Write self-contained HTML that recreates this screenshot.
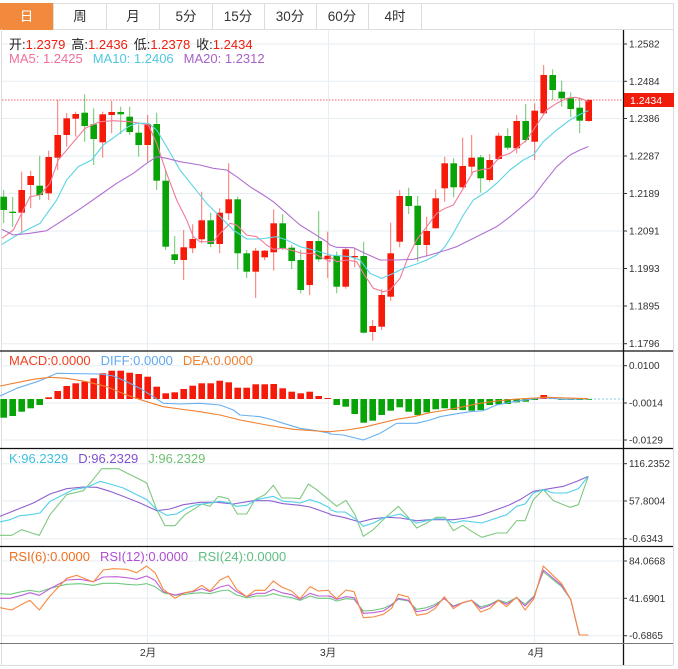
<!DOCTYPE html>
<html><head><meta charset="utf-8"><style>
body{margin:0;background:#fff;width:678px;height:669px;overflow:hidden;font-family:"Liberation Sans","Noto Sans CJK SC",sans-serif}
svg{position:absolute;left:0;top:0}
text{font-family:"Liberation Sans","Noto Sans CJK SC",sans-serif}
</style></head><body>
<svg id="s" width="678" height="669" xmlns="http://www.w3.org/2000/svg">
<rect x="0" y="0" width="678" height="669" fill="#fff"/>
<line x1="0" y1="3.5" x2="673" y2="3.5" stroke="#ddd"/>
<line x1="0" y1="29.5" x2="673" y2="29.5" stroke="#ddd"/>
<rect x="0" y="3" width="53" height="27" fill="#f28a3e"/>
<g stroke="#ddd"><line x1="53.5" y1="3" x2="53.5" y2="29"/><line x1="106.5" y1="3" x2="106.5" y2="29"/><line x1="159.5" y1="3" x2="159.5" y2="29"/><line x1="212.5" y1="3" x2="212.5" y2="29"/><line x1="264.5" y1="3" x2="264.5" y2="29"/><line x1="316.5" y1="3" x2="316.5" y2="29"/><line x1="368.5" y1="3" x2="368.5" y2="29"/><line x1="421.5" y1="3" x2="421.5" y2="29"/><line x1="673.5" y1="3" x2="673.5" y2="665"/><line x1="1.5" y1="29" x2="1.5" y2="665"/><line x1="0" y1="665.5" x2="673" y2="665.5"/></g>
<g font-size="13.5" fill="#333" text-anchor="middle">
<text x="26.5" y="21" fill="#fff">日</text><text x="80" y="21">周</text><text x="133" y="21">月</text><text x="186" y="21">5分</text><text x="238" y="21">15分</text><text x="290" y="21">30分</text><text x="342" y="21">60分</text><text x="395" y="21">4时</text>
</g>
<g id="grid" stroke="#e6eef2" stroke-width="1"></g>
<g id="plot"></g>
<g stroke="#111" stroke-width="1.3">
<line x1="0" y1="351" x2="673" y2="351"/><line x1="0" y1="448.5" x2="673" y2="448.5"/><line x1="0" y1="546.5" x2="673" y2="546.5"/>
<line x1="623.5" y1="30" x2="623.5" y2="665"/>
</g>
<line x1="0" y1="643.5" x2="673" y2="643.5" stroke="#777"/>
<g id="axis" font-size="10" fill="#333"></g>
<rect x="624" y="93" width="50" height="14" fill="#f01c0c"/>
<text x="630" y="104" font-size="10.5" fill="#fff">1.2434</text>
<g font-size="13">
<text x="9" y="49"><tspan fill="#222">开:</tspan><tspan fill="#f01c0c">1.2379</tspan><tspan fill="#222" dx="6">高:</tspan><tspan fill="#f01c0c">1.2436</tspan><tspan fill="#222" dx="6">低:</tspan><tspan fill="#f01c0c">1.2378</tspan><tspan fill="#222" dx="6">收:</tspan><tspan fill="#f01c0c">1.2434</tspan></text>
<text x="9" y="63"><tspan fill="#f0709a">MA5: 1.2425</tspan><tspan fill="#4fc8e0" dx="10">MA10: 1.2406</tspan><tspan fill="#a860c8" dx="10">MA20: 1.2312</tspan></text>
<text x="9" y="365"><tspan fill="#f04020">MACD:0.0000</tspan><tspan fill="#60a8f0" dx="10">DIFF:0.0000</tspan><tspan fill="#f08030" dx="10">DEA:0.0000</tspan></text>
<text x="9" y="463"><tspan fill="#40c0e0">K:96.2329</tspan><tspan fill="#8050d0" dx="10">D:96.2329</tspan><tspan fill="#70c070" dx="10">J:96.2329</tspan></text>
<text x="9" y="561"><tspan fill="#f07020">RSI(6):0.0000</tspan><tspan fill="#b050d0" dx="10">RSI(12):0.0000</tspan><tspan fill="#60c080" dx="10">RSI(24):0.0000</tspan></text>
</g>
<g font-size="10.5" fill="#333" text-anchor="middle"><text x="148" y="656">2月</text><text x="328" y="656">3月</text><text x="536" y="656">4月</text></g>
</svg>
<script>
const NS="http://www.w3.org/2000/svg",plot=document.getElementById('plot'),grid=document.getElementById('grid'),axis=document.getElementById('axis');
function el(p,t,a){const e=document.createElementNS(NS,t);for(const k in a)e.setAttribute(k,a[k]);p.appendChild(e);return e;}
[44,81.3,118.5,156,193.5,231,268.5,306,343.7,365.7,403,440,463.7,501,538.7,561,598.3,635.7].forEach(y=>el(grid,'line',{x1:2,x2:623,y1:y,y2:y}));
[147.5,328.5,534.5].forEach(x=>el(grid,'line',{x1:x,x2:x,y1:30,y2:643}));
const ticks=[[44,'1.2582'],[81.3,'1.2484'],[118.5,'1.2386'],[156,'1.2287'],[193.5,'1.2189'],[231,'1.2091'],[268.5,'1.1993'],[306,'1.1895'],[343.7,'1.1796'],[365.7,'0.0100'],[403,'-0.0014'],[440,'-0.0129'],[463.7,'116.2352'],[501,'57.8004'],[538.7,'-0.6343'],[561,'84.0668'],[598.3,'41.6901'],[635.7,'-0.6865']];
ticks.forEach(([y,t])=>{el(axis,'line',{x1:623,x2:627,y1:y,y2:y,stroke:'#333'});const e=el(axis,'text',{x:629,y:y+3.5});e.textContent=t;});
el(plot,'line',{x1:2,x2:623,y1:100,y2:100,stroke:'#f06060','stroke-dasharray':'1.5,1.5'});
const R='#f51a0a',G='#07a307';
const C=[['g',196.7,210,190,223],['g',211.7,212.7,197,227],['r',190,212.7,171.7,231.7],['r',176,185,170.7,208],['g',185.7,195,155.7,200],['r',157,193.3,150.7,200],['r',135,157.7,100,170],['r',118.3,135,113,146.7],['r',114,118.7,111.7,136.7],['g',112.7,126,94.3,141.7],['g',124.3,139,108.3,165],['r',114.3,142.3,111.7,157.7],['r',112,115,101,133.3],['g',112,114.3,106.7,134],['g',116.7,132,106.7,135],['g',132.7,145,124.3,156.7],['r',124,145,115,161.7],['g',124,180.7,112.7,190],['g',180.7,246.7,170,250],['g',254.3,260,236,264],['r',247.3,260,230,280],['r',239,248.3,224.3,253.3],['r',220.3,239.3,191.7,243.3],['g',220.3,244,212.7,247.3],['r',212.7,244,208.3,253.3],['r',199.3,213.3,163.3,220],['g',199.3,253.3,196.7,269.3],['g',253.3,271.7,250,278],['r',250.7,271.7,248,298],['r',250.7,257.3,250,260],['r',223.3,252.3,209.3,270.7],['g',223.3,248.3,214,250],['g',247.7,261,245,269],['g',260,290,250,293.3],['r',241,285,241,295],['g',241,259.3,211,261.7],['r',255.7,259,231.7,278],['g',255.7,286.7,251.7,293.3],['r',249.3,286.7,247.7,288.7],['r',256,257.3,248.3,267.3],['g',256,332.7,241.7,333.3],['r',326,332,320,340.7],['r',295,326.7,289.3,330],['r',253.3,296.7,222.7,300.7],['r',196,241.7,190,247.3],['g',196,206,187.7,214],['g',205.7,245,196,261.7],['r',231,245,216.7,256],['r',198.3,228.3,189.3,228.3],['r',163.3,188.3,156.7,201.7],['g',163.3,187.3,158.3,197.3],['r',166,187.3,137.7,188.3],['r',157.7,166.7,135,175],['g',157.3,178.3,155,192.7],['r',160,180,154,181.7],['r',135.7,159,132.7,160],['g',136,147.7,128.3,150],['r',121,148.3,115,153.3],['g',121,140,104,142.7],['r',110.7,141.7,103.3,160],['r',75,113.3,65,115],['g',75,90,69.3,100],['g',91.7,98.3,80.7,106.7],['g',98.3,109,92.3,117.3],['g',107.7,120.7,97.3,133.3],['r',100,121,99.3,121.7]];
C.forEach((c,i)=>{const x=3.7+9*i,col=c[0]=='r'?R:G;
el(plot,'line',{x1:x,x2:x,y1:c[3],y2:c[4],stroke:col,'stroke-opacity':0.6});
el(plot,'rect',{x:x-3.3,y:c[1],width:6.6,height:Math.max(1.3,c[2]-c[1]),fill:col});});
function pl(a,b,ox,oy,col,w){const p=a.map(q=>[q[0]/3,q[1]/3+oy]).concat(b.map(q=>[330+q[0]/3,q[1]/3+oy]));
el(plot,'polyline',{points:p.map(q=>q.join(',')).join(' '),fill:'none',stroke:col,'stroke-width':w||1.1,'stroke-linejoin':'round'});}
pl([[6,535],[40,510],[90,410],[120,405],[150,370],[175,300],[200,270],[255,205],[300,185],[340,182],[390,185],[420,190],[445,195],[470,250],[500,340],[530,420],[560,480],[580,530],[600,545],[640,545],[660,520],[690,490],[710,495],[740,525],[770,530],[800,555],[820,568],[850,565],[880,572],[905,580],[940,580],[970,595],[990,605]],[[0,590],[20,605],[50,600],[80,605],[100,640],[130,685],[160,695],[180,690],[210,655],[235,590],[260,540],[290,500],[320,460],[345,445],[370,435],[400,385],[430,335],[460,328],[480,325],[510,290],[540,280],[560,265],[590,240],[620,195],[650,150],[680,130],[710,115],[735,112],[760,118],[775,125]],0,60,'#f07b9a');
pl([[6,553],[60,520],[120,490],[170,420],[200,360],[235,320],[275,300],[310,255],[345,230],[385,200],[410,190],[445,190],[470,210],[500,260],[540,330],[580,380],[620,430],[660,470],[700,510],[740,537],[780,537],[830,530],[860,540],[900,560],[940,570],[980,582]],[[0,585],[60,590],[90,600],[120,640],[155,655],[190,640],[220,625],[260,612],[290,600],[320,585],[345,560],[370,520],[400,465],[430,420],[470,395],[500,370],[540,330],[580,300],[610,285],[640,245],[680,210],[720,180],[750,163],[775,152]],0,60,'#5bd3e6');
pl([[6,508],[40,525],[90,520],[140,512],[190,480],[250,440],[300,405],[350,370],[400,340],[440,310],[470,290],[500,295],[540,305],[600,315],[640,325],[680,330],[710,350],[750,380],[790,405],[820,425],[860,460],[900,495],[940,520],[980,545]],[[0,555],[20,562],[70,563],[105,580],[150,600],[200,600],[250,598],[300,585],[350,570],[380,560],[420,540],[460,520],[500,500],[540,470],[570,445],[610,410],[640,370],[680,320],[720,285],[750,270],[775,260]],0,60,'#b070d0');
const M=[417.7,416,411.7,408.3,405,397.3,391,386,383.3,381.7,378.3,373.3,370.7,370.7,372.7,374,376.7,386.7,393.3,392.3,389,385.7,383.3,383.3,380.7,382.3,387.7,387.7,384.3,384.3,384,388.3,391.7,393.3,391.7,396,398,405,406.7,414,422.7,420.7,415,410.7,407.3,411.7,415,412.3,409.3,408.3,410,410,410.7,410,405,404.3,404,402.3,401.7,400,395,398,400,400,400,399.5];
el(plot,'line',{x1:590,x2:623,y1:399,y2:399,stroke:'#80d0f0','stroke-dasharray':'2,2'});
M.forEach((v,i)=>{const x=3.7+9*i,z=399;el(plot,'rect',{x:x-3.3,y:Math.min(v,z),width:6.6,height:Math.max(0.8,Math.abs(v-z)),fill:v<z?R:G});});
pl([[0,138],[50,115],[120,92],[170,70],[300,72],[340,78],[380,95],[420,115],[460,140],[490,160],[540,162],[600,160],[660,165],[700,180],[720,195],[780,200],[820,210],[850,220],[900,235],[950,242],[990,250]],[[0,252],[40,255],[100,270],[150,250],[200,220],[260,220],[300,210],[330,200],[370,193],[420,185],[460,182],[500,165],[550,155],[600,148],[640,143],[700,148],[775,147]],0,350,'#6ab0f0');
pl([[0,108],[50,98],[100,88],[150,82],[200,85],[260,95],[320,110],[380,135],[440,155],[490,170],[540,177],[600,185],[660,195],[720,210],[800,225],[880,238],[950,243],[990,245]],[[0,245],[50,240],[100,232],[150,220],[200,208],[250,200],[300,188],[350,180],[400,170],[450,160],[500,153],[550,148],[600,145],[650,142],[775,146]],0,350,'#f08030');
pl([[0,262],[35,262],[65,245],[95,255],[118,262],[150,200],[200,140],[250,128],[275,100],[305,62],[355,62],[390,80],[415,92],[440,105],[470,185],[495,233],[525,233],[555,200],[590,178],[605,168],[630,175],[655,145],[685,152],[712,198],[740,198],[765,155],[795,140],[820,112],[845,150],[875,150],[900,152],[925,108],[950,125],[990,158]],[[0,158],[20,175],[48,157],[75,200],[100,265],[130,245],[165,210],[205,175],[235,208],[260,240],[290,225],[318,208],[345,208],[370,248],[398,232],[425,250],[455,268],[500,255],[530,255],[560,218],[585,218],[610,155],[640,125],[670,158],[720,178],[745,170],[775,85]],0,448,'#80c880');
pl([[0,205],[50,185],[100,165],[150,138],[200,122],[250,117],[290,118],[330,130],[370,145],[420,165],[470,188],[510,183],[550,170],[600,163],[650,163],[700,168],[760,158],[810,158],[850,167],[900,172],[930,177],[990,198]],[[0,200],[40,208],[90,222],[130,212],[170,208],[210,210],[260,218],[300,215],[370,215],[410,210],[450,202],[500,185],[540,170],[570,155],[610,130],[640,125],[700,115],[740,100],[775,85]],0,448,'#9060d0');
pl([[0,222],[30,215],[60,203],[90,200],[120,195],[150,160],[180,145],[220,125],[260,118],[300,100],[330,108],[370,120],[400,135],[440,155],[470,185],[500,202],[530,198],[560,180],[590,170],[630,165],[660,160],[690,165],[710,175],[740,172],[770,155],[820,145],[850,160],[880,162],[900,165],[930,155],[960,165],[990,180]],[[0,185],[20,192],[45,192],[80,215],[100,235],[130,225],[160,210],[210,198],[260,225],[290,218],[320,212],[345,213],[370,225],[400,218],[455,225],[500,210],[530,200],[560,175],[585,168],[610,135],[640,125],[670,135],[710,135],[745,122],[775,85]],0,448,'#50d0e8');
pl([[0,143],[30,145],[65,137],[90,133],[118,138],[150,127],[200,115],[240,113],[280,118],[310,112],[350,112],[380,115],[410,117],[440,113],[465,122],[490,140],[525,148],[555,145],[580,142],[605,140],[630,143],[660,135],[685,132],[710,147],[740,155],[770,150],[795,150],[820,143],[845,150],[875,155],[900,163],[930,150],[955,157],[985,157],[990,158]],[[0,157],[20,165],[48,158],[72,160],[100,195],[130,193],[160,187],[185,175],[205,160],[235,165],[260,190],[290,185],[315,175],[343,158],[370,180],[398,170],[425,163],[452,183],[480,175],[505,162],[530,170],[560,155],[585,175],[612,150],[640,77],[695,122],[722,160],[748,267],[775,267]],0,546,'#70c880');
pl([[0,157],[30,157],[65,148],[90,140],[118,148],[150,128],[200,102],[240,100],[280,107],[310,93],[350,92],[380,95],[410,100],[440,90],[465,103],[490,137],[525,147],[555,140],[580,137],[605,128],[630,137],[660,123],[685,117],[710,137],[740,152],[770,142],[795,142],[820,130],[845,140],[875,146],[900,160],[930,142],[955,150],[985,150],[990,152]],[[0,150],[20,160],[48,152],[72,155],[100,202],[130,200],[160,195],[185,178],[205,157],[235,163],[260,197],[290,192],[315,180],[343,157],[370,182],[398,170],[425,163],[452,188],[480,178],[505,163],[530,175],[560,155],[585,180],[612,153],[640,72],[695,118],[722,160],[748,267],[775,267]],0,546,'#c060d8');
pl([[0,185],[35,192],[65,175],[90,163],[118,192],[150,150],[200,97],[230,88],[280,108],[310,72],[340,68],[380,70],[410,80],[440,60],[465,80],[490,130],[525,157],[555,140],[580,135],[605,118],[630,135],[660,102],[685,90],[710,130],[740,152],[765,133],[795,133],[820,105],[845,123],[875,135],[900,158],[930,122],[955,135],[985,133],[990,138]],[[0,140],[20,158],[48,132],[72,137],[100,215],[130,213],[160,205],[185,187],[205,145],[235,153],[260,208],[290,203],[315,188],[343,152],[370,188],[398,170],[425,163],[452,198],[480,187],[505,163],[530,182],[560,153],[585,192],[612,158],[640,60],[695,113],[722,160],[748,267],[775,267]],0,546,'#f88a40');
</script>
</body></html>
